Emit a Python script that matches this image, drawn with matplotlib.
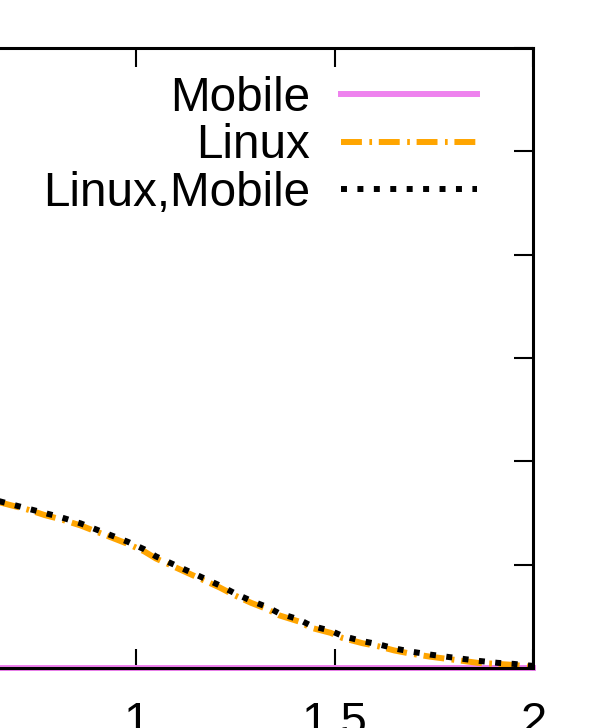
import numpy as np
import matplotlib.pyplot as plt

plt.rcParams['font.family'] = ['Liberation Sans', 'DejaVu Sans']

# data (left part of the plot is cropped away)
x_mobile = [0.0, 0.5, 1.0, 1.5, 2.0]
y_mobile = [0.0, 0.0, 0.0, 0.0, 0.0]

x_curve = [0.64, 0.66, 0.69, 0.73, 0.77, 0.81, 0.86, 0.90, 0.94, 0.98, 1.02, 1.05,
           1.09, 1.13, 1.17, 1.21, 1.25, 1.29, 1.33, 1.36, 1.41, 1.44, 1.49, 1.52,
           1.57, 1.61, 1.65, 1.69, 1.74, 1.78, 1.82, 1.86, 1.91, 1.95, 2.0]

y_linux = [0.162, 0.160, 0.157, 0.153, 0.148, 0.144, 0.138, 0.132, 0.126, 0.120,
           0.113, 0.106, 0.099, 0.092, 0.085, 0.078, 0.070, 0.063, 0.057, 0.051,
           0.045, 0.039, 0.034, 0.029, 0.024, 0.021, 0.017, 0.014, 0.011, 0.009,
           0.007, 0.005, 0.004, 0.003, 0.001]

y_both = [0.163, 0.161, 0.158, 0.154, 0.150, 0.146, 0.140, 0.134, 0.128, 0.122,
          0.115, 0.108, 0.101, 0.094, 0.087, 0.080, 0.072, 0.065, 0.059, 0.053,
          0.047, 0.041, 0.036, 0.031, 0.026, 0.023, 0.019, 0.016, 0.013, 0.011,
          0.009, 0.007, 0.005, 0.004, 0.002]

fig = plt.figure(figsize=(5.91, 7.28), dpi=100)
ax = fig.add_axes([-0.4418, 0.0824, 1.3442, 0.8516])

lw = 4.3
ax.plot(x_mobile, y_mobile, color='#ee82ee', lw=lw, label='Mobile', clip_on=False)
ax.plot(x_curve, y_linux, color='#ffa500', lw=lw, dashes=(3.5, 1.25, 0.45, 1.13),
        label='Linux')
ax.plot(x_curve, y_both, color='black', lw=lw, dashes=(1.0, 1.75),
        label='Linux,Mobile')

ax.set_xlim(0, 2)
ax.set_ylim(0, 0.6)
ax.set_xticks([0, 0.5, 1, 1.5, 2])
ax.set_xticklabels(['', '', '1', '1.5', '2'])
ax.set_yticks(np.arange(0, 0.61, 0.1))
ax.tick_params(direction='in', length=14, width=1.5, top=True, right=True,
               labelsize=34, pad=24, labelleft=False)
for s in ax.spines.values():
    s.set_linewidth(2.2)

fig.legend(loc='upper right', bbox_to_anchor=(0.807, 0.8956), frameon=False,
           fontsize=34.3, markerfirst=False, handlelength=2.85, handletextpad=0.65,
           labelspacing=0.05, borderpad=0, borderaxespad=0)

fig.savefig('out.png', dpi=100)
